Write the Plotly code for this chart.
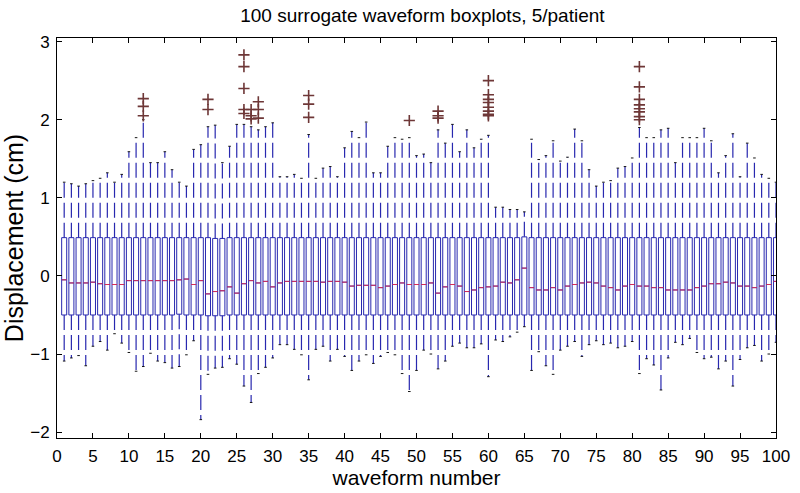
import plotly.graph_objects as go

# ---------------- data ----------------
waveform = list(range(1, 101))

upper_whisker = [
    1.20, 1.18, 1.15, 1.18, 1.22, 1.25, 1.32, 1.20, 1.30, 1.59,
    1.77, 2.00, 1.45, 1.45, 1.59, 1.36, 1.20, 1.15, 1.62, 1.68,
    1.91, 1.93, 1.45, 1.66, 1.94, 1.94, 1.91, 1.87, 1.91, 1.96,
    1.27, 1.27, 1.30, 1.25, 1.81, 1.25, 1.38, 1.40, 1.27, 1.64,
    1.85, 1.77, 1.97, 1.32, 1.32, 1.66, 1.77, 1.75, 1.77, 1.54,
    1.56, 1.45, 1.87, 1.70, 1.94, 1.59, 1.87, 1.64, 1.75, 1.80,
    0.88, 0.88, 0.85, 0.85, 0.82, 1.75, 1.49, 1.54, 1.73, 1.47,
    1.52, 1.88, 1.73, 1.36, 1.15, 1.20, 1.22, 1.38, 1.40, 1.51,
    1.90, 1.77, 1.77, 1.87, 1.89, 1.45, 1.77, 1.77, 1.77, 1.89,
    1.73, 1.32, 1.54, 1.82, 1.27, 1.70, 1.51, 1.30, 1.25, 1.20,
]

lower_whisker = [
    -1.09, -1.05, -1.02, -1.15, -0.90, -0.84, -0.95, -0.74, -0.86, -0.98,
    -1.22, -1.16, -0.99, -1.09, -1.11, -1.18, -1.16, -1.01, -0.83, -1.84,
    -1.26, -1.18, -1.17, -1.06, -1.13, -1.41, -1.62, -1.25, -1.17, -1.05,
    -0.88, -0.88, -0.94, -1.01, -1.33, -0.94, -0.90, -1.09, -0.94, -1.03,
    -1.21, -1.09, -1.01, -1.12, -1.03, -0.98, -1.01, -1.25, -1.48, -1.21,
    -0.95, -1.00, -1.19, -1.09, -0.90, -0.86, -0.92, -0.92, -0.87, -1.29,
    -0.82, -0.84, -0.78, -0.72, -0.65, -1.21, -0.97, -1.15, -1.26, -0.95,
    -0.90, -0.84, -1.03, -0.88, -0.83, -0.88, -0.86, -0.92, -0.90, -0.84,
    -1.25, -1.06, -1.14, -1.46, -1.05, -0.85, -0.88, -0.80, -0.98, -1.06,
    -1.04, -1.19, -1.09, -1.41, -1.07, -0.92, -0.89, -1.09, -1.00, -0.85,
]

median = [
    -0.05, -0.09, -0.09, -0.09, -0.08, -0.10, -0.11, -0.11, -0.11, -0.06,
    -0.06, -0.06, -0.06, -0.06, -0.06, -0.06, -0.05, -0.04, -0.11, -0.06,
    -0.23, -0.20, -0.19, -0.14, -0.22, -0.10, -0.06, -0.09, -0.07, -0.14,
    -0.09, -0.07, -0.07, -0.07, -0.07, -0.07, -0.08, -0.07, -0.07, -0.08,
    -0.13, -0.12, -0.12, -0.12, -0.15, -0.13, -0.11, -0.09, -0.11, -0.11,
    -0.11, -0.09, -0.22, -0.14, -0.11, -0.13, -0.20, -0.18, -0.15, -0.14,
    -0.13, -0.08, -0.09, -0.05, 0.10, -0.15, -0.18, -0.18, -0.15, -0.18,
    -0.13, -0.11, -0.09, -0.08, -0.09, -0.13, -0.15, -0.18, -0.13, -0.11,
    -0.13, -0.13, -0.15, -0.15, -0.18, -0.18, -0.18, -0.18, -0.15, -0.13,
    -0.10, -0.10, -0.08, -0.09, -0.13, -0.13, -0.15, -0.13, -0.11, -0.07,
]

q3 = [
    0.49, 0.49, 0.49, 0.49, 0.49, 0.49, 0.49, 0.49, 0.49, 0.49,
    0.49, 0.49, 0.49, 0.49, 0.49, 0.49, 0.49, 0.49, 0.49, 0.49,
    0.49, 0.48, 0.48, 0.49, 0.49, 0.49, 0.49, 0.49, 0.49, 0.49,
    0.49, 0.49, 0.49, 0.49, 0.49, 0.49, 0.49, 0.49, 0.49, 0.49,
    0.49, 0.49, 0.49, 0.49, 0.49, 0.49, 0.49, 0.49, 0.49, 0.49,
    0.49, 0.49, 0.49, 0.49, 0.49, 0.49, 0.49, 0.49, 0.49, 0.49,
    0.49, 0.49, 0.49, 0.49, 0.50, 0.49, 0.49, 0.49, 0.49, 0.49,
    0.49, 0.49, 0.49, 0.49, 0.49, 0.49, 0.49, 0.49, 0.49, 0.49,
    0.49, 0.49, 0.49, 0.49, 0.49, 0.49, 0.49, 0.49, 0.49, 0.49,
    0.49, 0.49, 0.49, 0.49, 0.49, 0.49, 0.49, 0.49, 0.49, 0.49,
]

q1 = [
    -0.50, -0.50, -0.50, -0.50, -0.50, -0.50, -0.50, -0.50, -0.50, -0.50,
    -0.50, -0.50, -0.50, -0.50, -0.50, -0.50, -0.49, -0.50, -0.50, -0.50,
    -0.51, -0.51, -0.51, -0.50, -0.50, -0.50, -0.50, -0.50, -0.50, -0.50,
    -0.50, -0.50, -0.50, -0.50, -0.50, -0.50, -0.50, -0.50, -0.50, -0.50,
    -0.50, -0.50, -0.50, -0.50, -0.50, -0.50, -0.50, -0.50, -0.50, -0.50,
    -0.50, -0.50, -0.50, -0.50, -0.50, -0.50, -0.50, -0.50, -0.50, -0.50,
    -0.50, -0.50, -0.50, -0.50, -0.50, -0.50, -0.50, -0.50, -0.50, -0.50,
    -0.50, -0.50, -0.50, -0.50, -0.50, -0.50, -0.50, -0.50, -0.50, -0.50,
    -0.50, -0.50, -0.50, -0.50, -0.50, -0.50, -0.50, -0.50, -0.50, -0.50,
    -0.50, -0.50, -0.50, -0.50, -0.50, -0.50, -0.50, -0.50, -0.50, -0.50,
]

outlier_box = [12, 12, 12,
               21, 21,
               26, 26, 26, 26, 26,
               27, 27, 27,
               28, 28, 28,
               35, 35, 35,
               49,
               53, 53, 53,
               60, 60, 60, 60, 60, 60, 60, 60,
               81, 81, 81, 81, 81, 81, 81, 81]
outlier_value = [2.27, 2.17, 2.05,
                 2.26, 2.13,
                 2.83, 2.68, 2.40, 2.13, 2.08,
                 2.13, 2.05, 2.01,
                 2.23, 2.13, 2.02,
                 2.31, 2.20, 2.03,
                 1.99,
                 2.11, 2.05, 2.02,
                 2.50, 2.32, 2.26, 2.22, 2.16, 2.11, 2.07, 2.05,
                 2.68, 2.42, 2.26, 2.19, 2.14, 2.10, 2.04, 2.00]

x_ticks = list(range(0, 101, 5))
y_ticks = [-2, -1, 0, 1, 2, 3]

title_text = "100 surrogate waveform boxplots, 5/patient"
x_title = "waveform number"
y_title = "Displacement (cm)"

# ---------------- styles ----------------
BOX_BLUE = "rgb(40,40,175)"
MED_RED = "rgb(210,45,90)"
OUT_RED = "rgb(110,55,55)"
HALF_W = 0.35
CAP_HALF = 0.18
FONT = "Liberation Sans, Arial, sans-serif"

# ---------------- build segment arrays from the data ----------------
wx, wy = [], []
for n, a, b, c, d in zip(waveform, q3, upper_whisker, q1, lower_whisker):
    wx += [n, n, None, n, n, None]
    wy += [a, b, None, c, d, None]

cx, cy = [], []
for n, b, d in zip(waveform, upper_whisker, lower_whisker):
    cx += [n - CAP_HALF, n + CAP_HALF, None, n - CAP_HALF, n + CAP_HALF, None]
    cy += [b, b, None, d, d, None]

mx, my = [], []
for n, m in zip(waveform, median):
    mx += [n - HALF_W, n + HALF_W, None]
    my += [m, m, None]

fig = go.Figure()

fig.add_trace(go.Box(
    x=waveform, q1=q1, median=median, q3=q3,
    lowerfence=q1, upperfence=q3,
    width=2 * HALF_W, whiskerwidth=0,
    line=dict(color=BOX_BLUE, width=1),
    fillcolor="rgba(0,0,0,0)",
    boxpoints=False, hoverinfo="skip", showlegend=False,
))

fig.add_trace(go.Scatter(
    x=wx, y=wy, mode="lines",
    line=dict(color=BOX_BLUE, width=1.2, dash="15px,5px"),
    hoverinfo="skip", showlegend=False,
))

fig.add_trace(go.Scatter(
    x=cx, y=cy, mode="lines",
    line=dict(color="rgb(20,20,20)", width=1),
    hoverinfo="skip", showlegend=False,
))

fig.add_trace(go.Scatter(
    x=mx, y=my, mode="lines",
    line=dict(color=MED_RED, width=1),
    hoverinfo="skip", showlegend=False,
))

fig.add_trace(go.Scatter(
    x=outlier_box, y=outlier_value, mode="markers",
    marker=dict(symbol="cross-thin", size=8,
                line=dict(color=OUT_RED, width=1.6)),
    hoverinfo="skip", showlegend=False,
))

axis_common = dict(
    showline=True, linecolor="black", linewidth=1, mirror="ticks",
    ticks="inside", ticklen=5, tickcolor="black",
    showgrid=False, zeroline=False, automargin=False,
    tickfont=dict(family=FONT, size=17, color="black"),
)

fig.update_layout(
    width=800, height=493,
    margin=dict(l=57, r=24, t=38, b=55),
    paper_bgcolor="white", plot_bgcolor="white",
    title=dict(text=title_text, x=0.528, xanchor="center",
               y=1 - 15 / 493, yanchor="middle", yref="container",
               font=dict(family=FONT, size=19, color="black")),
    xaxis=dict(range=[0, 100], tickvals=x_ticks,
               title=dict(text=x_title, standoff=2,
                          font=dict(family=FONT, size=21, color="black")),
               ticklabelstandoff=3,
               **axis_common),
    yaxis=dict(range=[-2.075, 3.046], tickvals=y_ticks,
               title=dict(text=y_title, standoff=2,
                          font=dict(family=FONT, size=25, color="black")),
               ticklabelstandoff=3,
               **axis_common),
    showlegend=False,
    hovermode=False,
)

fig.write_html("out.html",
               config={"displayModeBar": False, "staticPlot": True},
               post_script="document.body.style.margin='0px';"
                           "document.body.style.overflow='hidden';")
